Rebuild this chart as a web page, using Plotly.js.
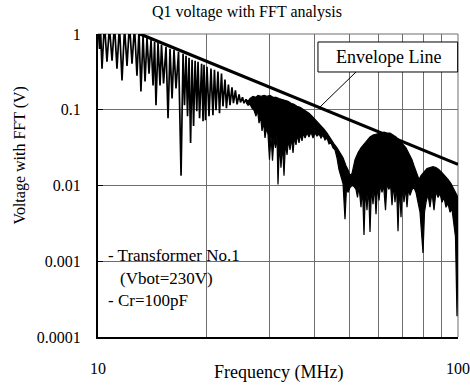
<!DOCTYPE html>
<html>
<head>
<meta charset="utf-8">
<script src="https://cdn.plot.ly/plotly-3.0.1.min.js"></script>
<style>html,body{margin:0;padding:0;background:#fff;}#chart{width:470px;height:385px;}</style>
</head>
<body>
<div id="chart"></div>
<script>
// ---- Data (frequency in MHz, voltage in V) ----
// Resolved ripple region of the FFT (10 - 26 MHz): alternating peaks / dips
const ripFreq = [10.00,10.10,10.16,10.26,10.42,10.59,10.76,10.94,11.11,11.29,11.47,11.66,11.85,12.04,12.23,12.43,12.63,12.83,13.00,13.16,13.34,13.51,13.68,13.86,14.04,14.22,14.36,14.49,14.68,14.87,15.01,15.21,15.45,15.65,15.85,16.06,16.26,16.47,16.74,17.01,17.23,17.39,17.56,17.73,17.90,18.08,18.25,18.43,18.61,18.81,18.96,19.15,19.40,19.58,19.70,19.89,20.08,20.34,20.60,20.86,21.06,21.27,21.54,21.75,22.03,22.24,22.53,22.74,23.03,23.26,23.56,23.78,24.08,24.34,24.65,24.88,25.20,25.44,25.77,26.02];
const ripVolt = [1.30,0.637,1.20,0.349,1.40,0.43,1.25,0.444,1.35,0.349,1.30,0.243,1.20,0.38,1.40,0.405,1.25,0.282,1.10,0.174,0.942,0.236,0.887,0.300,0.835,0.209,0.786,0.115,0.763,0.209,0.718,0.222,0.676,0.0774,0.637,0.141,0.618,0.191,0.582,0.0135,0.548,0.115,0.516,0.0822,0.486,0.0365,0.457,0.0609,0.444,0.0956,0.431,0.0774,0.405,0.0707,0.393,0.0729,0.370,0.0822,0.349,0.0848,0.338,0.0986,0.319,0.090,0.300,0.111,0.250,0.105,0.215,0.115,0.197,0.122,0.180,0.118,0.159,0.125,0.146,0.122,0.137,0.125];

// Dense region (26 - 100 MHz): upper edge of the spectrum
const upFreq = [25.77,26.10,26.44,26.95,27.47,27.83,28.37,28.92,29.48,30.05,30.63,31.22,31.83,32.44,33.07,33.71,34.37,35.03,35.71,36.40,37.11,37.83,38.56,39.31,40.07,40.84,41.64,42.44,43.27,44.10,45.24,46.12,47.01,47.93,48.85,49.48,50.12,50.77,51.75,52.75,53.77,54.81,55.87,56.96,58.06,59.19,60.72,62.30,63.50,64.74,65.99,67.27,69.01,70.35,71.71,73.09,74.51,75.47,76.44,77.43,77.93,78.93,80.46,82.01,83.60,85.22,86.87,88.56,90.27,92.02,93.80,95.62,97.47,98.73,100];
const upVolt = [0.137,0.129,0.141,0.150,0.146,0.155,0.150,0.155,0.150,0.155,0.146,0.146,0.141,0.137,0.133,0.129,0.122,0.118,0.111,0.108,0.1015,0.0956,0.090,0.0822,0.0751,0.0666,0.0609,0.0556,0.0493,0.0424,0.0354,0.0314,0.0270,0.0232,0.0182,0.0162,0.0135,0.0144,0.0219,0.0270,0.0314,0.0354,0.0399,0.0437,0.0464,0.0478,0.0493,0.0508,0.0493,0.0493,0.0464,0.0437,0.0388,0.0354,0.0314,0.0262,0.0219,0.0182,0.0152,0.0135,0.0120,0.0135,0.0152,0.0167,0.0172,0.0177,0.0172,0.0162,0.0148,0.0135,0.0120,0.0106,0.00887,0.00786,0.00697];

// Dense region: lower edge of the spectrum, with its dips
const lowFreq = [25.77,26.10,26.44,26.78,27.13,27.47,27.74,28.01,28.28,28.55,28.83,29.10,29.38,29.66,29.95,30.24,30.53,30.83,31.12,31.42,31.62,31.93,32.23,32.54,32.86,33.17,33.50,33.82,34.15,34.48,34.81,35.14,35.48,35.82,36.17,36.52,36.87,37.23,37.59,38.07,38.56,39.06,39.56,40.07,40.58,41.11,41.64,42.17,42.71,43.27,43.82,44.39,44.96,45.53,46.12,46.71,47.32,47.93,48.54,49.01,49.48,50.12,50.77,51.42,52.08,52.58,53.09,53.77,54.29,54.81,55.34,55.87,56.41,56.96,57.51,58.06,58.62,59.19,59.76,60.34,60.91,61.50,62.10,62.90,63.50,64.32,64.95,65.57,66.21,66.84,67.49,68.13,68.79,69.45,70.12,70.80,71.48,72.17,72.86,73.56,74.51,75.47,76.44,77.43,78.43,79.18,79.94,80.72,81.49,82.54,83.60,84.68,85.77,86.87,87.99,89.13,90.27,91.43,92.61,93.80,95.01,96.23,97.47,98.41,99.36,100];
const lowVolt = [0.125,0.115,0.118,0.105,0.0986,0.0822,0.0986,0.0666,0.0822,0.0524,0.0687,0.0424,0.0573,0.0478,0.0219,0.0450,0.0212,0.0424,0.0314,0.0450,0.0103,0.0365,0.0172,0.0354,0.0135,0.0365,0.0254,0.0399,0.0296,0.0424,0.0270,0.0437,0.0343,0.0464,0.0365,0.0478,0.0388,0.0493,0.0424,0.0493,0.0437,0.0508,0.0424,0.0493,0.0450,0.0478,0.0424,0.0464,0.0399,0.0424,0.0354,0.0365,0.0314,0.0296,0.0232,0.0162,0.0127,0.0106,0.00360,0.00941,0.0081,0.00941,0.0100,0.0097,0.00887,0.00697,0.0097,0.00516,0.00941,0.00222,0.00941,0.00471,0.0097,0.00243,0.0097,0.00565,0.0100,0.00418,0.0100,0.00637,0.0103,0.0081,0.0103,0.00471,0.0103,0.00887,0.0103,0.00548,0.0103,0.0060,0.0100,0.00250,0.0100,0.00382,0.0097,0.0060,0.00941,0.00516,0.00914,0.0074,0.00887,0.00941,0.0081,0.0060,0.00444,0.00266,0.00129,0.00444,0.0060,0.00763,0.00516,0.0081,0.00471,0.00835,0.00697,0.00786,0.0060,0.00697,0.00516,0.0058,0.00444,0.00486,0.00328,0.00209,0.000188,0.00155];

// Envelope line end points
const envFreq = [13.08, 100];
const envVolt = [1, 0.019];

// Tick labels
const xTickVals = [10,20,30,40,50,60,70,80,90,100];
const xTickText = ['10','','','','','','','','','100'];
const yTickVals = [0.0001,0.001,0.01,0.1,1];
const yTickText = ['0.0001','0.001','0.01','0.1','1'];

// Texts
const chartTitle = 'Q1 voltage with FFT analysis';
const xTitle = 'Frequency (MHz)';
const yTitle = 'Voltage with FFT (V)';
const envLabel = 'Envelope Line';
const noteLines = ['- Transformer No.1', '(Vbot=230V)', '- Cr=100pF'];

// ---- Traces ----
const bandX = upFreq.concat(lowFreq.slice().reverse());
const bandY = upVolt.concat(lowVolt.slice().reverse());

const traces = [
  {x: bandX, y: bandY, type: 'scatter', mode: 'lines', fill: 'toself',
   fillcolor: '#000', line: {color: '#000', width: 1.2}, hoverinfo: 'skip'},
  {x: ripFreq, y: ripVolt, type: 'scatter', mode: 'lines',
   line: {color: '#000', width: 1.7}},
  {x: envFreq, y: envVolt, type: 'scatter', mode: 'lines',
   line: {color: '#000', width: 3.2}}
];

const FONT = 'Liberation Serif, Times New Roman, serif';
const grid = '#6e6e6e';

const layout = {
  width: 470, height: 385,
  margin: {l: 98, r: 12, t: 34, b: 48, pad: 0},
  paper_bgcolor: '#fff', plot_bgcolor: '#fff',
  showlegend: false,
  font: {family: FONT, color: '#000', size: 16},
  xaxis: {
    type: 'log', range: [1, 2], tickvals: xTickVals, ticktext: xTickText,
    showgrid: true, gridcolor: grid, gridwidth: 1, zeroline: false,
    showline: true, linecolor: '#000', linewidth: 1.5, ticks: '',
    tickfont: {family: FONT, size: 16, color: '#000'}, ticklabelstandoff: 16,
    fixedrange: true
  },
  yaxis: {
    type: 'log', range: [-4, 0], tickvals: yTickVals, ticktext: yTickText,
    showgrid: true, gridcolor: grid, gridwidth: 1, zeroline: false,
    showline: true, linecolor: '#000', linewidth: 2,
    ticks: 'inside', ticklen: 5, tickcolor: '#000', tickwidth: 1,
    tickfont: {family: FONT, size: 16, color: '#000'}, ticklabelstandoff: 12,
    fixedrange: true
  },
  shapes: [
    // white panel behind the note text (hides grid lines)
    {type: 'rect', xref: 'paper', yref: 'paper', x0: 0.004, x1: 0.494, y0: 0.05, y1: 0.327,
     fillcolor: '#fff', line: {width: 0}, layer: 'between'},
    // top & right frame (grey like grid)
    {type: 'line', xref: 'paper', yref: 'paper', x0: 0, x1: 1, y0: 1, y1: 1, line: {color: grid, width: 1}, layer: 'between'},
    {type: 'line', xref: 'paper', yref: 'paper', x0: 1, x1: 1, y0: 0, y1: 1, line: {color: grid, width: 1}, layer: 'between'},
    // Envelope label box and leader line
    {type: 'rect', xref: 'paper', yref: 'paper', x0: 0.611, x1: 0.999, y0: 0.8746, y1: 0.9736,
     fillcolor: '#fff', line: {color: '#000', width: 1}, layer: 'above'},
    {type: 'line', xref: 'paper', yref: 'paper', x0: 0.7167, y0: 0.8746, x1: 0.6167, y1: 0.7591,
     line: {color: '#000', width: 1}, layer: 'above'}
  ],
  annotations: [
    {text: chartTitle, xref: 'paper', yref: 'paper', x: 0.414, y: 1.0726, xanchor: 'center', yanchor: 'middle',
     showarrow: false, font: {family: FONT, size: 16, color: '#000'}},
    {text: xTitle, xref: 'paper', yref: 'paper', x: 0.5, y: -0.1188, xanchor: 'center', yanchor: 'middle',
     showarrow: false, font: {family: FONT, size: 18, color: '#000'}},
    {text: yTitle, xref: 'paper', yref: 'paper', x: -0.2167, y: 0.602, xanchor: 'center', yanchor: 'middle',
     textangle: -90, showarrow: false, font: {family: FONT, size: 16, color: '#000'}},
    {text: envLabel, xref: 'paper', yref: 'paper', x: 0.8056, y: 0.9241, xanchor: 'center', yanchor: 'middle',
     showarrow: false, font: {family: FONT, size: 18, color: '#000'}},
    {text: noteLines[0], xref: 'paper', yref: 'paper', x: 0.022, y: 0.2706, xanchor: 'left', yanchor: 'middle',
     showarrow: false, font: {family: FONT, size: 17, color: '#000'}},
    {text: noteLines[1], xref: 'paper', yref: 'paper', x: 0.055, y: 0.1947, xanchor: 'left', yanchor: 'middle',
     showarrow: false, font: {family: FONT, size: 17, color: '#000'}},
    {text: noteLines[2], xref: 'paper', yref: 'paper', x: 0.022, y: 0.1221, xanchor: 'left', yanchor: 'middle',
     showarrow: false, font: {family: FONT, size: 17, color: '#000'}}
  ]
};

Plotly.newPlot('chart', traces, layout, {staticPlot: true, displayModeBar: false});
</script>
</body>
</html>
